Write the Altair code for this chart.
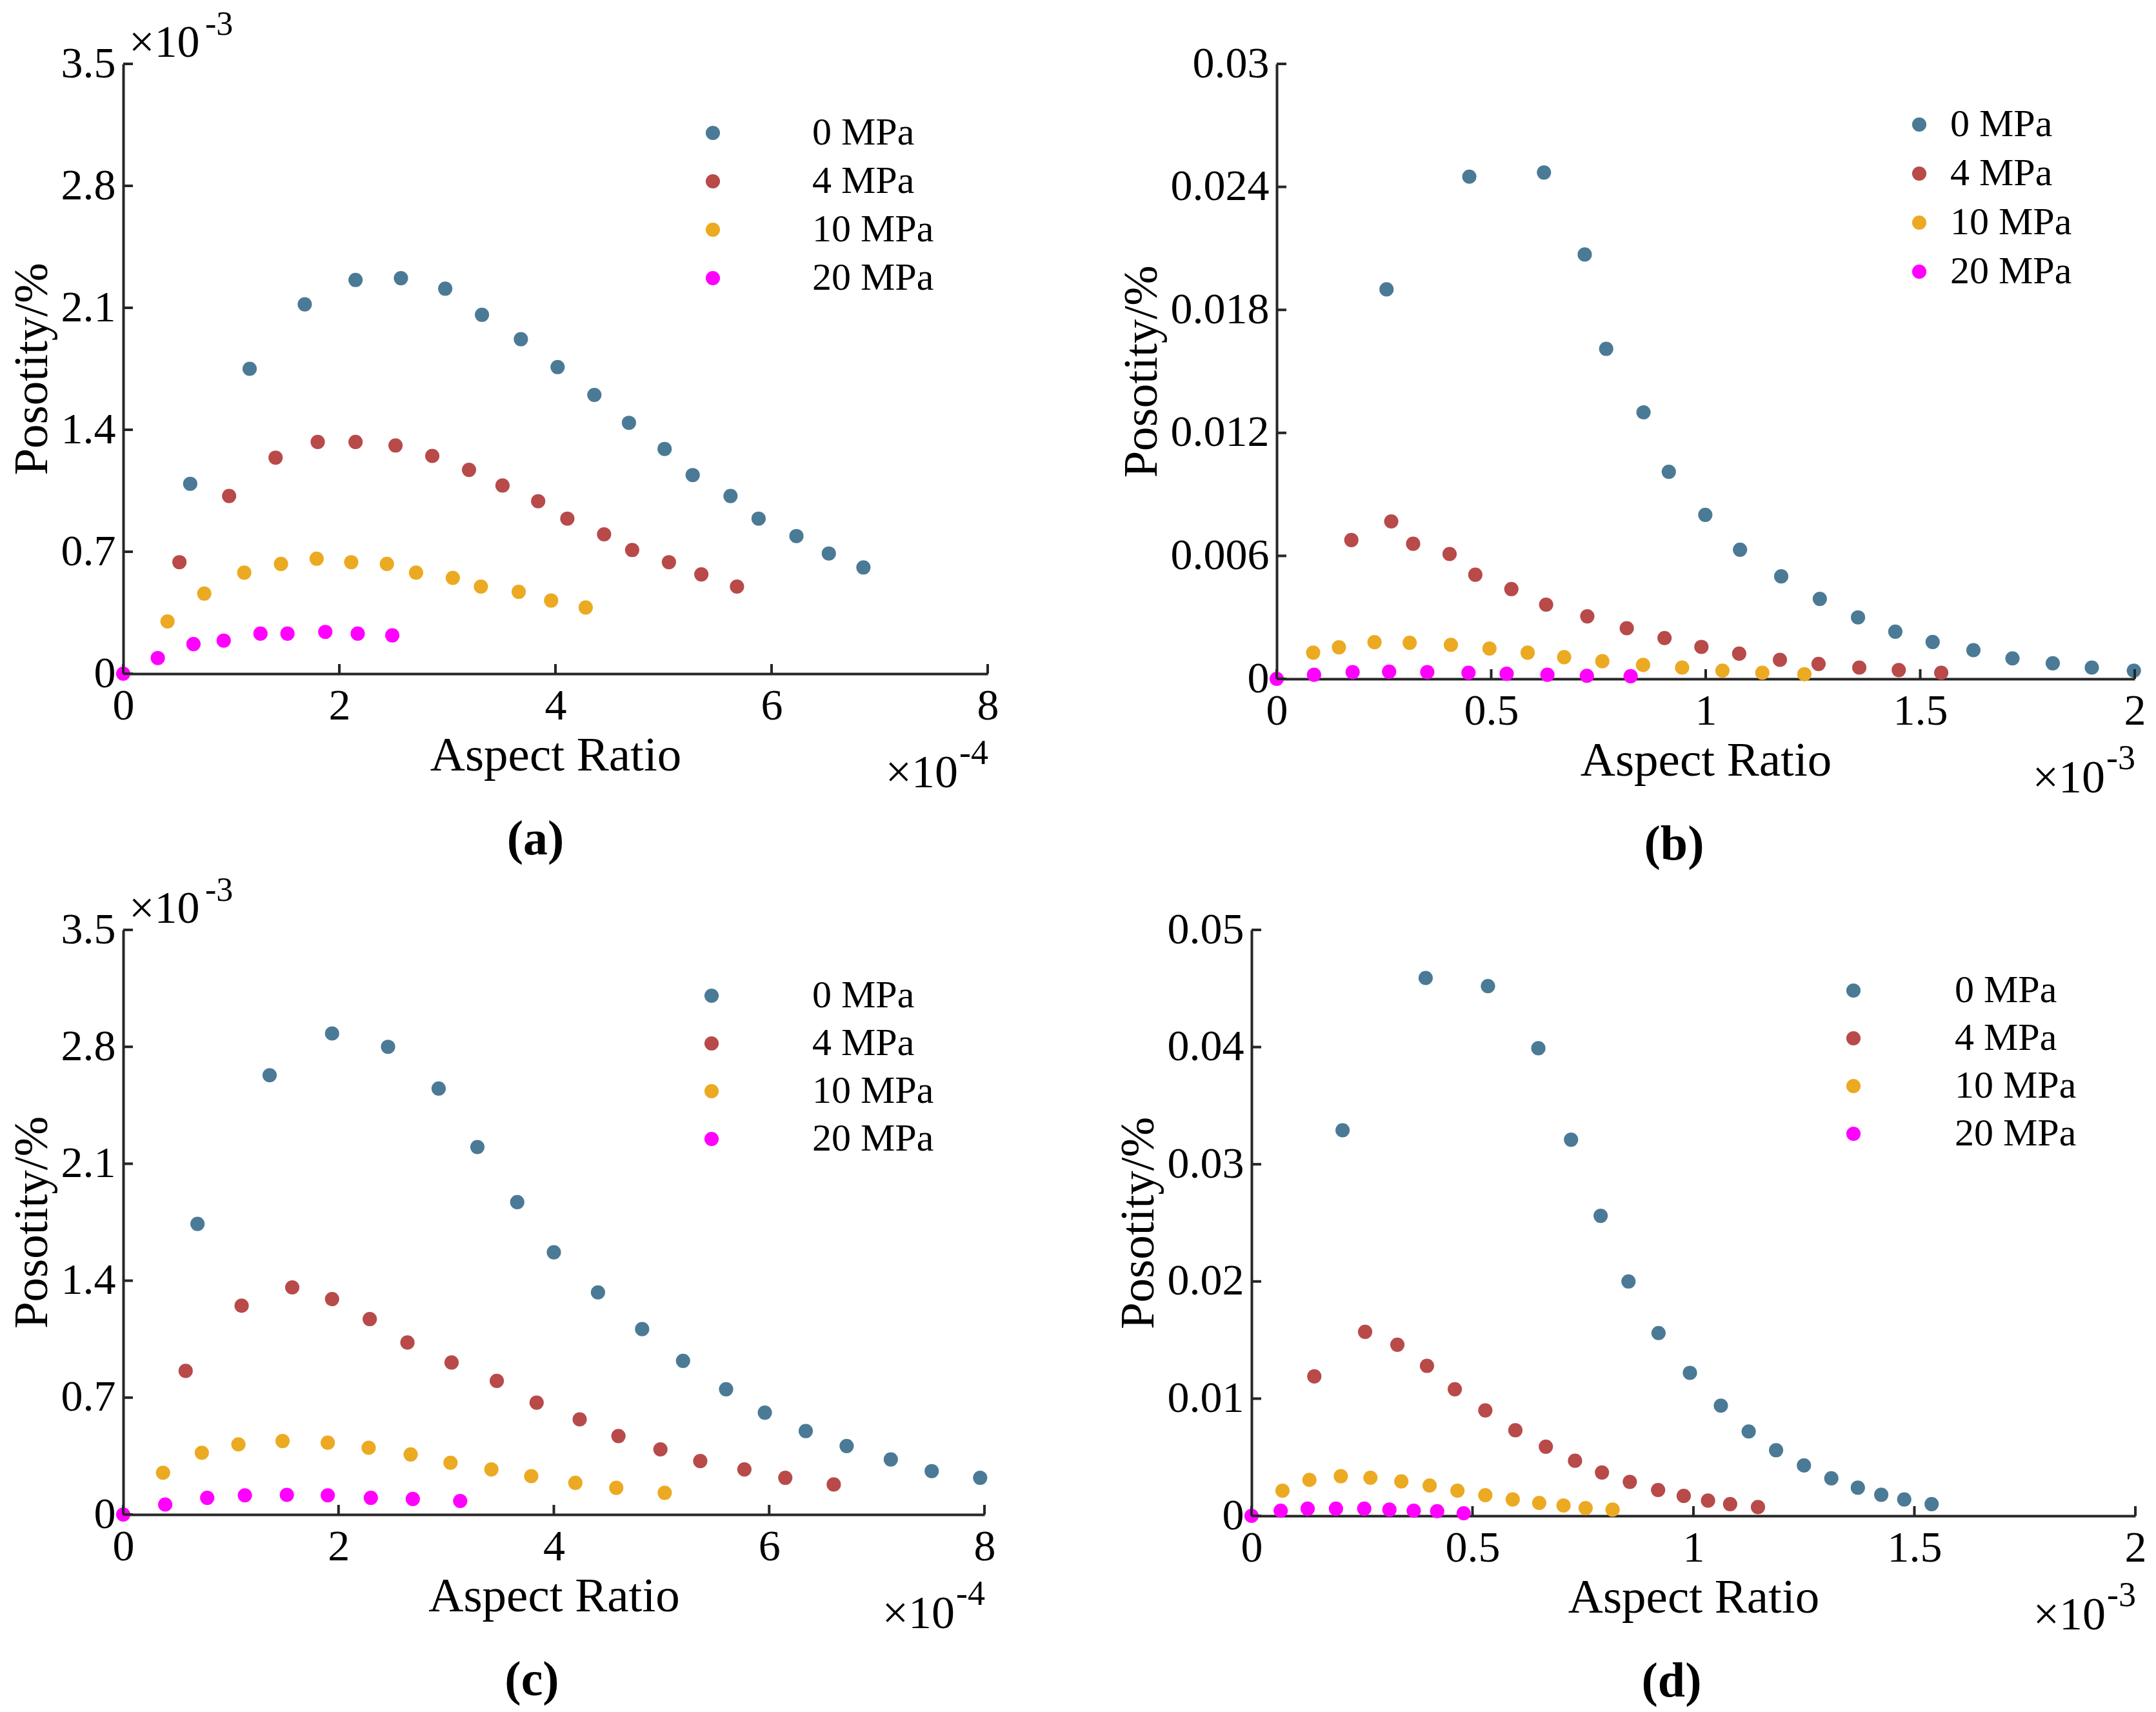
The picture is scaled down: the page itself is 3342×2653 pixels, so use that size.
import altair as alt
import pandas as pd

SERIES = ["0 MPa", "4 MPa", "10 MPa", "20 MPa"]
COLORS = ["#4A7A96", "#B84A4A", "#EBAA22", "#FF00FF"]
FONT = "Liberation Serif"
AXIS_COLOR = "#262626"

# ---- panel (a): x in 1e-4, y in 1e-3 ----
a0_x = [0.62, 1.17, 1.68, 2.15, 2.57, 2.98, 3.32, 3.68, 4.02, 4.36, 4.68, 5.01, 5.27, 5.62, 5.88, 6.23, 6.53, 6.85]
a0_y = [1.09, 1.75, 2.12, 2.26, 2.27, 2.21, 2.06, 1.92, 1.76, 1.60, 1.44, 1.29, 1.14, 1.02, 0.89, 0.79, 0.69, 0.61]
a4_x = [0.52, 0.98, 1.41, 1.80, 2.15, 2.52, 2.86, 3.20, 3.51, 3.84, 4.11, 4.45, 4.71, 5.05, 5.35, 5.68]
a4_y = [0.64, 1.02, 1.24, 1.33, 1.33, 1.31, 1.25, 1.17, 1.08, 0.99, 0.89, 0.80, 0.71, 0.64, 0.57, 0.50]
a10_x = [0.41, 0.75, 1.12, 1.46, 1.79, 2.11, 2.44, 2.71, 3.05, 3.31, 3.66, 3.96, 4.28]
a10_y = [0.30, 0.46, 0.58, 0.63, 0.66, 0.64, 0.63, 0.58, 0.55, 0.50, 0.47, 0.42, 0.38]
a20_x = [0, 0.32, 0.65, 0.93, 1.27, 1.52, 1.87, 2.17, 2.49]
a20_y = [0, 0.09, 0.17, 0.19, 0.23, 0.23, 0.24, 0.23, 0.22]

# ---- panel (b): x in 1e-3 ----
b0_x = [0.256, 0.449, 0.623, 0.718, 0.768, 0.855, 0.914, 0.999, 1.080, 1.176, 1.266, 1.355, 1.442, 1.529, 1.624, 1.715, 1.809, 1.900, 1.998]
b0_y = [0.0190, 0.0245, 0.0247, 0.0207, 0.0161, 0.0130, 0.0101, 0.0080, 0.0063, 0.0050, 0.0039, 0.0030, 0.0023, 0.0018, 0.0014, 0.0010, 0.00076, 0.00055, 0.00040]
b4_x = [0.174, 0.267, 0.318, 0.403, 0.463, 0.547, 0.628, 0.724, 0.816, 0.904, 0.990, 1.078, 1.173, 1.263, 1.358, 1.450, 1.549]
b4_y = [0.00677, 0.00768, 0.00659, 0.00609, 0.00508, 0.00438, 0.00362, 0.00305, 0.00247, 0.00199, 0.00156, 0.00123, 0.00093, 0.00073, 0.00055, 0.00043, 0.00030]
b10_x = [0.085, 0.145, 0.228, 0.310, 0.406, 0.496, 0.585, 0.670, 0.759, 0.854, 0.945, 1.039, 1.132, 1.230]
b10_y = [0.00128, 0.00154, 0.00179, 0.00176, 0.00166, 0.00148, 0.00128, 0.00106, 0.00086, 0.00068, 0.00055, 0.00040, 0.00030, 0.00023]
b20_x = [0, 0.087, 0.177, 0.262, 0.351, 0.447, 0.536, 0.631, 0.723, 0.825]
b20_y = [0, 0.00020, 0.00033, 0.00035, 0.00033, 0.00030, 0.00025, 0.00020, 0.00015, 0.00013]

# ---- panel (c): x in 1e-4, y in 1e-3 ----
c0_x = [0.69, 1.36, 1.94, 2.46, 2.93, 3.29, 3.66, 4.00, 4.41, 4.82, 5.20, 5.60, 5.96, 6.34, 6.72, 7.13, 7.51, 7.96]
c0_y = [1.74, 2.63, 2.88, 2.80, 2.55, 2.20, 1.87, 1.57, 1.33, 1.11, 0.92, 0.75, 0.61, 0.50, 0.41, 0.33, 0.26, 0.22]
c4_x = [0.58, 1.10, 1.57, 1.94, 2.29, 2.64, 3.05, 3.47, 3.84, 4.24, 4.60, 4.99, 5.36, 5.77, 6.15, 6.60]
c4_y = [0.86, 1.25, 1.36, 1.29, 1.17, 1.03, 0.91, 0.80, 0.67, 0.57, 0.47, 0.39, 0.32, 0.27, 0.22, 0.18]
c10_x = [0.37, 0.73, 1.07, 1.48, 1.90, 2.28, 2.67, 3.04, 3.42, 3.79, 4.20, 4.58, 5.03]
c10_y = [0.25, 0.37, 0.42, 0.44, 0.43, 0.40, 0.36, 0.31, 0.27, 0.23, 0.19, 0.16, 0.13]
c20_x = [0, 0.39, 0.78, 1.13, 1.52, 1.90, 2.30, 2.69, 3.13]
c20_y = [0, 0.06, 0.10, 0.115, 0.118, 0.115, 0.10, 0.093, 0.081]

# ---- panel (d): x in 1e-3 ----
d0_x = [0.206, 0.394, 0.535, 0.649, 0.723, 0.790, 0.853, 0.921, 0.992, 1.062, 1.125, 1.187, 1.250, 1.312, 1.372, 1.425, 1.477, 1.539]
d0_y = [0.0329, 0.0459, 0.0452, 0.0399, 0.0321, 0.0256, 0.0200, 0.0156, 0.0122, 0.0094, 0.0072, 0.0056, 0.0043, 0.0032, 0.0024, 0.0018, 0.0014, 0.0010]
d4_x = [0.142, 0.257, 0.330, 0.397, 0.460, 0.529, 0.597, 0.666, 0.732, 0.793, 0.856, 0.920, 0.978, 1.033, 1.083, 1.146]
d4_y = [0.0119, 0.0157, 0.0146, 0.0128, 0.0108, 0.0090, 0.0073, 0.0059, 0.0047, 0.0037, 0.0029, 0.0022, 0.0017, 0.0013, 0.0010, 0.00075]
d10_x = [0.070, 0.131, 0.202, 0.269, 0.339, 0.403, 0.466, 0.529, 0.591, 0.651, 0.706, 0.756, 0.817]
d10_y = [0.00215, 0.00307, 0.00338, 0.00325, 0.00294, 0.00259, 0.00215, 0.00176, 0.00140, 0.00110, 0.00088, 0.00066, 0.00053]
d20_x = [0, 0.066, 0.127, 0.191, 0.255, 0.312, 0.367, 0.420, 0.480]
d20_y = [0, 0.00044, 0.00061, 0.00061, 0.00061, 0.00053, 0.00044, 0.00040, 0.00022]

# tick values
ticks_x_ac = [0, 2, 4, 6, 8]
ticks_y_ac = [0, 0.7, 1.4, 2.1, 2.8, 3.5]
ticks_x_bd = [0, 0.5, 1, 1.5, 2]
ticks_y_b = [0, 0.006, 0.012, 0.018, 0.024, 0.03]
ticks_y_d = [0, 0.01, 0.02, 0.03, 0.04, 0.05]


def make_df(xs, ys):
    rows = []
    for name, xl, yl in zip(SERIES, xs, ys):
        for xi, yi in zip(xl, yl):
            rows.append({"x": xi, "y": yi, "s": name})
    return pd.DataFrame(rows)


def txt(s, x, y, size, align="left"):
    return alt.Chart(pd.DataFrame({"t": [s]})).mark_text(
        text=s, font=FONT, fontSize=size, align=align, baseline="alphabetic", color="black"
    ).encode(x=alt.value(x), y=alt.value(y))


def panel(xs, ys, xdom, xticks, ydom, yticks, w, h, leg, yexp, xexp, label, label_dx):
    df = make_df(xs, ys)
    xscale = alt.Scale(domain=xdom, nice=False, zero=False)
    yscale = alt.Scale(domain=ydom, nice=False, zero=False)
    xaxis = alt.Axis(
        values=xticks, format="~g", title="Aspect Ratio", labelFont=FONT, labelFontSize=68,
        labelColor="black", titleFont=FONT, titleFontSize=75, titleFontWeight="normal",
        titleColor="black", tickSize=0, labelPadding=16, titlePadding=6, grid=False,
        domainColor=AXIS_COLOR, domainWidth=4, labelFlush=False)
    yaxis = alt.Axis(
        values=yticks, format="~g", title="Posotity/%", labelFont=FONT, labelFontSize=68,
        labelColor="black", titleFont=FONT, titleFontSize=75, titleFontWeight="normal",
        titleColor="black", tickSize=0, labelPadding=12, titlePadding=6, grid=False,
        domainColor=AXIS_COLOR, domainWidth=4, labelFlush=False)
    points = alt.Chart(df).mark_circle(size=490, opacity=1).encode(
        x=alt.X("x:Q", scale=xscale, axis=xaxis),
        y=alt.Y("y:Q", scale=yscale, axis=yaxis),
        color=alt.Color("s:N", title=None, scale=alt.Scale(domain=SERIES, range=COLORS),
                        legend=alt.Legend(orient="none", legendX=leg[0], legendY=leg[1],
                                          labelOffset=leg[2], rowPadding=leg[3],
                                          symbolSize=490, symbolType="circle",
                                          symbolStrokeWidth=0, symbolOpacity=1,
                                          labelFont=FONT, labelFontSize=60, labelColor="black",
                                          labelLimit=0, padding=0)),
    )
    xt = alt.Chart(pd.DataFrame({"x": xticks})).mark_rule(color=AXIS_COLOR, strokeWidth=4).encode(
        x=alt.X("x:Q", scale=xscale, axis=xaxis), y=alt.value(h), y2=alt.value(h - 15))
    yt = alt.Chart(pd.DataFrame({"y": yticks})).mark_rule(color=AXIS_COLOR, strokeWidth=4).encode(
        y=alt.Y("y:Q", scale=yscale, axis=yaxis), x=alt.value(0), x2=alt.value(15))
    layers = [points, xt, yt]
    if yexp:
        layers += [txt("×10", 9, -11, 70), txt(yexp, 127, -45, 52)]
    layers += [txt("×10", w - 46, h + 176, 72, "right"), txt(xexp, w - 44, h + 140, 54)]
    return alt.layer(*layers).properties(
        width=w, height=h,
        title=alt.TitleParams(text=label, orient="bottom", font=FONT, fontSize=76,
                              fontWeight="bold", color="black", offset=30, dx=label_dx,
                              anchor="middle"))


pa = panel([a0_x, a4_x, a10_x, a20_x], [a0_y, a4_y, a10_y, a20_y], [0, 8], ticks_x_ac,
           [0, 3.5], ticks_y_ac, 1340, 945, (884, 77, 124, 15), "-3", "-4", "(a)", -31)
pb = panel([b0_x, b4_x, b10_x, b20_x], [b0_y, b4_y, b10_y, b20_y], [0, 2], ticks_x_bd,
           [0, 0.03], ticks_y_b, 1330, 953, (966, 64, 18, 16), None, "-3", "(b)", -49)
pc = panel([c0_x, c4_x, c10_x, c20_x], [c0_y, c4_y, c10_y, c20_y], [0, 8], ticks_x_ac,
           [0, 3.5], ticks_y_ac, 1335, 906, (882, 72, 126, 14), "-3", "-4", "(c)", -34)
pd_ = panel([d0_x, d4_x, d10_x, d20_x], [d0_y, d4_y, d10_y, d20_y], [0, 2], ticks_x_bd,
            [0, 0.05], ticks_y_d, 1370, 908, (903, 64, 127, 14), None, "-3", "(d)", -34)

row1 = alt.hconcat(pa, pb, spacing=184).resolve_scale(color="independent").resolve_legend(color="independent")
row2 = alt.hconcat(pc, pd_, spacing=184).resolve_scale(color="independent").resolve_legend(color="independent")
chart = alt.vconcat(row1, row2, spacing=7).resolve_scale(color="independent").resolve_legend(
    color="independent").configure_view(stroke=None).properties(
    background="white", padding={"left": 4, "top": 4, "right": 5, "bottom": 5})

chart.save("out.html", embed_options={"renderer": "svg", "actions": False})
